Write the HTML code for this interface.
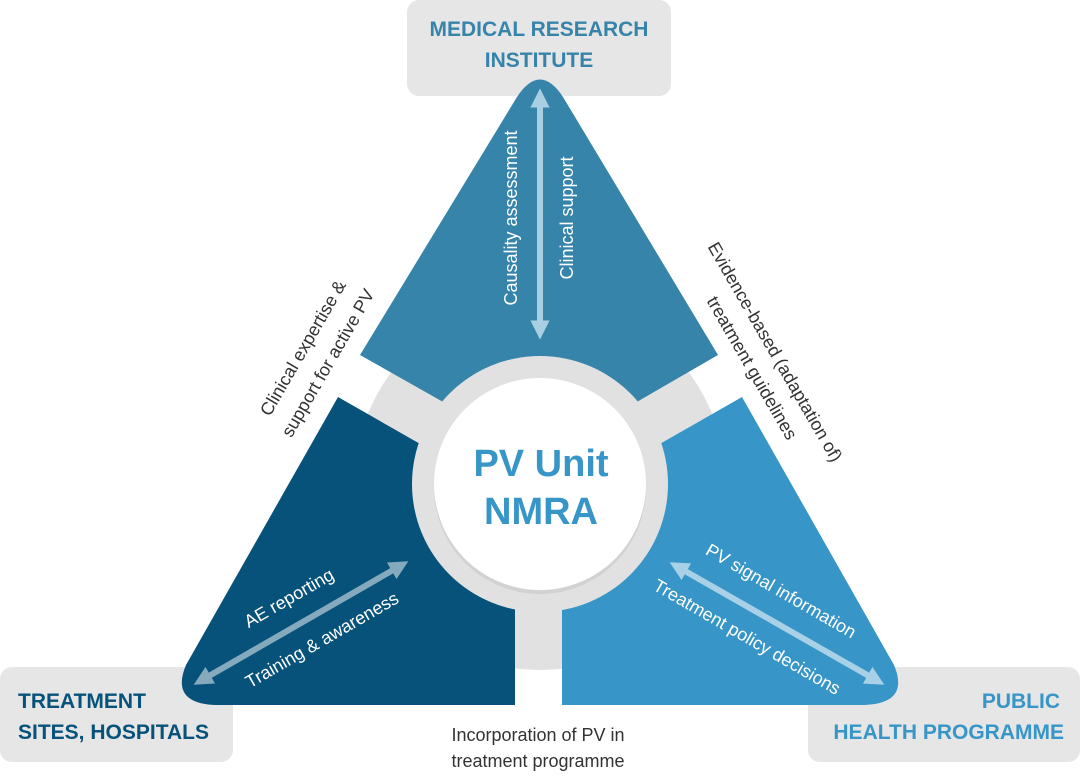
<!DOCTYPE html>
<html><head><meta charset="utf-8"><style>
html,body{margin:0;padding:0;background:#fff;}
svg{display:block;}
text{font-family:"Liberation Sans",sans-serif;}
</style></head><body>
<svg width="1080" height="776" viewBox="0 0 1080 776" xmlns="http://www.w3.org/2000/svg">
<defs>
<marker id="ah" viewBox="0 0 10 10" refX="5" refY="5" markerWidth="3.2" markerHeight="3.2" orient="auto-start-reverse"><path d="M0,0 L10,5 L0,10 z" fill="context-stroke"/></marker>
</defs>
<rect x="407" y="0" width="264" height="96" rx="12" fill="#e6e6e6"/>
<rect x="0" y="667" width="233" height="95" rx="12" fill="#e6e6e6"/>
<rect x="808" y="667" width="272" height="95" rx="12" fill="#e6e6e6"/>
<text x="539" y="36" font-size="21" font-weight="bold" fill="#3784ab" text-anchor="middle">MEDICAL RESEARCH</text>
<text x="539" y="67" font-size="21" font-weight="bold" fill="#3784ab" text-anchor="middle">INSTITUTE</text>
<text x="18" y="708" font-size="21" font-weight="bold" fill="#06527a">TREATMENT</text>
<text x="18" y="739" font-size="21" font-weight="bold" fill="#06527a">SITES, HOSPITALS</text>
<text x="1060" y="708" font-size="21" font-weight="bold" fill="#3796c7" text-anchor="end">PUBLIC</text>
<text x="1064" y="739" font-size="21" font-weight="bold" fill="#3796c7" text-anchor="end">HEALTH PROGRAMME</text>
<circle cx="540" cy="484" r="186" fill="#e1e1e1"/>
<path d="M360,355 L517,97 Q540,62 563,97 L718,355 L628,407 L540,440 L452,407 Z" fill="#3784ab"/>
<path d="M338,397 L450,461 L515,530 L515,705 L215,705 Q170,703 186,665 Z" fill="#06527a"/>
<path d="M742,397 L630,461 L562,530 L562,705 L865,705 Q910,703 894,665 Z" fill="#3796c7"/>
<circle cx="540" cy="484" r="128" fill="#e1e1e1"/>
<circle cx="540" cy="488" r="106" fill="#d2d2d2"/>
<circle cx="540" cy="484" r="106" fill="#fff"/>
<text x="541" y="476" font-size="38" font-weight="bold" fill="#3796c7" text-anchor="middle">PV Unit</text>
<text x="541" y="524" font-size="38" font-weight="bold" fill="#3796c7" text-anchor="middle">NMRA</text>
<line x1="540" y1="98" x2="540" y2="330" stroke="#a8cfe2" stroke-width="6" marker-start="url(#ah)" marker-end="url(#ah)"/>
<line x1="202" y1="680" x2="400" y2="566" stroke="#86aabd" stroke-width="6" marker-start="url(#ah)" marker-end="url(#ah)"/>
<line x1="678" y1="567" x2="876" y2="680" stroke="#a8d0e6" stroke-width="6" marker-start="url(#ah)" marker-end="url(#ah)"/>
<g fill="#fff" font-size="18" text-anchor="middle">
<text transform="translate(511,218) rotate(-90)" y="6">Causality assessment</text>
<text transform="translate(567,218) rotate(-90)" y="6">Clinical support</text>
<text transform="translate(289,598) rotate(-30)" y="6">AE reporting</text>
<text transform="translate(322,640) rotate(-30)" y="6">Training &amp; awareness</text>
<text transform="translate(781,591) rotate(30)" y="6">PV signal information</text>
<text transform="translate(747,637) rotate(30)" y="6">Treatment policy decisions</text>
</g>
<g fill="#333" font-size="18" text-anchor="middle">
<text transform="translate(303,348) rotate(-60)" y="6">Clinical expertise &amp;</text>
<text transform="translate(328,363) rotate(-60)" y="6">support for active PV</text>
<text transform="translate(775,352) rotate(60)" y="6">Evidence-based (adaptation of)</text>
<text transform="translate(752,368) rotate(60)" y="6">treatment guidelines</text>
<text x="538" y="741">Incorporation of PV in</text>
<text x="538" y="767">treatment programme</text>
</g>
</svg>
</body></html>
